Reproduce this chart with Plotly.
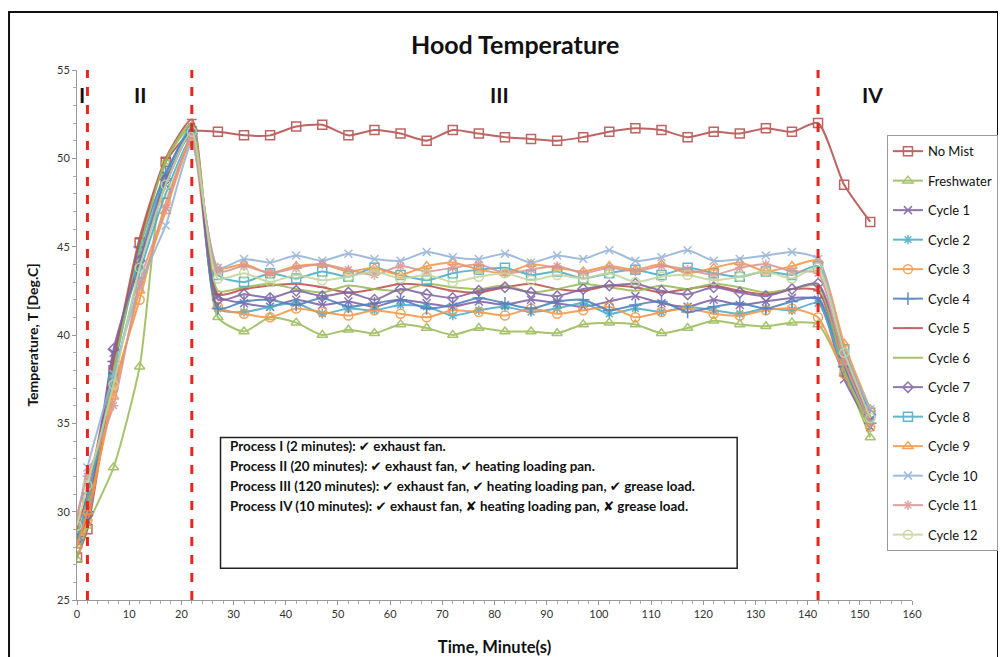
import plotly.graph_objects as go

# ---------------- data ----------------
time_min = [0, 2, 7, 12, 17, 22, 27, 32, 37, 42, 47, 52, 57, 62, 67, 72, 77, 82, 87, 92,
            97, 102, 107, 112, 117, 122, 127, 132, 137, 142, 147, 152]

no_mist = [27.4, 29.0, 38.0, 45.2, 49.8, 51.5, 51.5, 51.3, 51.3, 51.8, 51.9, 51.3, 51.6, 51.4,
           51.0, 51.6, 51.4, 51.2, 51.1, 51.0, 51.2, 51.5, 51.7, 51.6, 51.2, 51.5, 51.4, 51.7,
           51.5, 52.0, 48.5, 46.4]
freshwater = [27.3, 29.2, 32.5, 38.2, 49.8, 51.8, 41.0, 40.2, 41.0, 40.7, 40.0, 40.3, 40.1, 40.6,
              40.4, 40.0, 40.4, 40.2, 40.2, 40.1, 40.6, 40.7, 40.6, 40.1, 40.4, 40.8, 40.6, 40.5,
              40.7, 40.6, 37.8, 34.2]
cycle_1 = [28.5, 29.5, 39.0, 44.0, 48.5, 51.5, 42.2, 41.8, 41.6, 42.0, 41.7, 41.9, 41.6, 42.0,
           41.8, 41.6, 41.9, 41.7, 42.0, 41.8, 41.6, 41.9, 42.2, 41.8, 41.6, 42.0, 41.7, 41.9,
           42.1, 42.0, 37.5, 34.8]
cycle_2 = [28.3, 30.5, 38.0, 44.5, 49.0, 51.8, 41.5, 41.3, 41.6, 41.8, 41.2, 41.5, 41.4, 41.7,
           41.6, 41.1, 41.4, 41.6, 41.3, 41.5, 41.8, 41.2, 41.5, 41.3, 41.6, 41.4, 41.2, 41.5,
           41.4, 41.8, 38.0, 35.2]
cycle_3 = [28.0, 29.5, 37.0, 42.0, 47.5, 51.0, 41.6, 41.2, 41.0, 41.5, 41.3, 41.1, 41.4, 41.2,
           41.0, 41.4, 41.3, 41.1, 41.5, 41.2, 41.4, 41.6, 41.0, 41.3, 41.5, 41.2, 41.1, 41.4,
           41.5, 41.0, 37.8, 34.8]
cycle_4 = [28.6, 30.0, 38.5, 45.0, 49.2, 51.6, 41.5, 41.9, 42.0, 41.7, 42.1, 41.6, 41.8, 42.0,
           41.5, 41.7, 42.1, 41.8, 41.5, 41.9, 42.0, 41.4, 41.7, 41.9, 41.3, 41.6, 41.8, 41.5,
           41.9, 42.1, 38.2, 35.0]
cycle_5 = [29.0, 31.0, 38.5, 45.5, 50.0, 52.2, 42.3, 42.6, 42.8, 42.9, 42.7, 42.4, 42.6, 42.9,
           42.8, 42.5, 42.4, 42.7, 42.9, 42.6, 42.5, 42.8, 42.7, 42.4, 42.6, 42.8, 42.5, 42.3,
           42.6, 42.5, 38.5, 35.3]
cycle_6 = [28.8, 30.2, 38.0, 44.8, 49.9, 52.0, 42.5, 42.7, 42.9, 42.6, 42.4, 42.8, 42.6, 42.5,
           42.9, 42.7, 42.6, 42.8, 42.4, 42.6, 42.9, 42.7, 42.5, 42.8, 42.6, 42.9, 42.7, 42.4,
           42.6, 42.8, 38.0, 34.6]
cycle_7 = [28.4, 29.8, 39.2, 44.2, 48.8, 51.4, 42.0, 42.3, 42.1, 42.5, 42.2, 42.4, 42.0, 42.6,
           42.3, 42.1, 42.5, 42.7, 42.4, 42.2, 42.6, 42.8, 42.9, 42.5, 42.3, 42.7, 42.4, 42.2,
           42.6, 42.9, 38.8, 35.5]
cycle_8 = [28.2, 30.8, 37.5, 43.5, 48.0, 51.2, 43.4, 43.0, 43.5, 43.2, 43.6, 43.3, 43.8, 43.4,
           43.1, 43.5, 43.7, 43.8, 43.4, 43.6, 43.2, 43.5, 43.7, 43.4, 43.8, 43.5, 43.3, 43.6,
           43.4, 43.9, 39.2, 35.6]
cycle_9 = [28.1, 30.0, 36.5, 42.5, 47.0, 51.0, 43.8, 44.0, 43.5, 43.9, 44.0, 43.6, 43.8, 43.4,
           43.9, 44.1, 43.7, 43.5, 44.0, 43.8, 43.6, 43.9, 43.7, 44.0, 43.5, 43.8, 44.1, 43.6,
           43.9, 44.2, 39.5, 35.8]
cycle_10 = [29.5, 32.5, 37.8, 42.8, 46.2, 50.8, 43.8, 44.3, 44.1, 44.5, 44.2, 44.6, 44.3, 44.2,
            44.7, 44.4, 44.3, 44.6, 44.1, 44.5, 44.3, 44.8, 44.2, 44.4, 44.8, 44.2, 44.3, 44.5,
            44.7, 44.3, 39.0, 35.8]
cycle_11 = [29.8, 32.0, 36.0, 43.0, 47.2, 51.2, 43.6, 43.9, 43.5, 43.8, 44.0, 43.7, 43.4, 43.9,
            43.6, 43.8, 44.0, 43.5, 43.7, 43.9, 43.5, 43.8, 43.6, 43.9, 43.7, 43.4, 43.8, 44.0,
            43.6, 43.5, 38.5, 35.0]
cycle_12 = [29.2, 31.5, 37.2, 43.8, 48.5, 51.5, 43.2, 43.5, 43.0, 43.4, 43.1, 43.3, 43.6, 43.2,
            43.4, 43.0, 43.3, 43.5, 43.1, 43.4, 43.2, 43.5, 43.0, 43.3, 43.4, 43.1, 43.3, 43.6,
            43.2, 43.8, 39.0, 35.3]

series_names = ["No Mist", "Freshwater", "Cycle 1", "Cycle 2", "Cycle 3", "Cycle 4", "Cycle 5",
                "Cycle 6", "Cycle 7", "Cycle 8", "Cycle 9", "Cycle 10", "Cycle 11", "Cycle 12"]
series_values = [no_mist, freshwater, cycle_1, cycle_2, cycle_3, cycle_4, cycle_5, cycle_6,
                 cycle_7, cycle_8, cycle_9, cycle_10, cycle_11, cycle_12]

phase_bounds = [2, 22, 142]
phase_labels = ["I", "II", "III", "IV"]
phase_label_x = [1, 12, 81, 152.5]

process_notes = [
    "Process I (2 minutes): ✔ exhaust fan.",
    "Process II (20 minutes): ✔ exhaust fan, ✔ heating loading pan.",
    "Process III (120 minutes): ✔ exhaust fan, ✔ heating loading pan, ✔ grease load.",
    "Process IV (10 minutes): ✔ exhaust fan, ✘ heating loading pan, ✘ grease load.",
]

# ---------------- styles ----------------
colors = ["#B5504E", "#9BBB59", "#7E62A6", "#4BACC6", "#F79646", "#4F81BD", "#C0504D",
          "#9BBB59", "#8064A2", "#4BACC6", "#F79646", "#95B3D7", "#D99694", "#C3D69B"]
symbols = ["square-open", "triangle-up-open", "x-thin-open", "asterisk-open", "circle-open",
           "cross-thin-open", "line-ew-open", "circle", "diamond-open", "square-open",
           "triangle-up-open", "x-thin-open", "asterisk-open", "circle-open"]
msize = [9, 9, 8, 8, 9, 9, 7, 0, 8, 9, 9, 8, 8, 9]

FONT = "Lato, 'DejaVu Sans', sans-serif"

fig = go.Figure()
for name, vals, c, s, ms in zip(series_names, series_values, colors, symbols, msize):
    fig.add_trace(go.Scatter(
        x=time_min, y=vals, name=name, legendgroup=name,
        mode="lines+markers" if ms > 0 else "lines",
        line=dict(color=c, width=2, shape="spline", smoothing=0.6),
        marker=dict(symbol=s, size=ms, color=c, line=dict(color=c, width=1.5)),
        opacity=0.88,
    ))

shapes = []
for xb in phase_bounds:
    shapes.append(dict(type="line", xref="x", yref="y", x0=xb, x1=xb, y0=25, y1=55.6,
                       line=dict(color="#E8261E", width=3, dash="dash"), layer="above"))
# annotation box
shapes.append(dict(type="rect", xref="x", yref="y", x0=27.5, x1=126.5, y0=26.8, y1=34.2,
                   line=dict(color="#222222", width=1.5), fillcolor="white", layer="above"))
# outer frame
shapes.append(dict(type="rect", xref="paper", yref="paper", x0=-0.0814, x1=1.1030,
                   y0=-0.14, y1=1.1094, line=dict(color="#111111", width=2), layer="below"))

annotations = []
for lab, lx in zip(phase_labels, phase_label_x):
    annotations.append(dict(x=lx, y=53.6, xref="x", yref="y", text="<b>%s</b>" % lab,
                            showarrow=False, font=dict(family=FONT, size=21, color="#111111")))
note_y = [33.72, 32.59, 31.46, 30.32]
for txt, ny in zip(process_notes, note_y):
    annotations.append(dict(x=28.9, y=ny, xref="x", yref="y", text="<b>%s</b>" % txt,
                            xanchor="left", yanchor="middle", showarrow=False,
                            font=dict(family=FONT, size=13.4, color="#111111")))
annotations.append(dict(x=0.5246, y=1.049, xref="paper", yref="paper",
                        text="<b>Hood Temperature</b>", showarrow=False, yanchor="middle",
                        font=dict(family=FONT, size=25, color="#111111")))

fig.update_layout(
    width=998, height=649,
    margin=dict(l=69, r=94, t=62, b=57, autoexpand=False),
    paper_bgcolor="white", plot_bgcolor="white",
    font=dict(family=FONT, size=11, color="#333333"),
    shapes=shapes, annotations=annotations,
    showlegend=True,
    legend=dict(x=0.970, y=0.877, xanchor="left", yanchor="top",
                bordercolor="#9a9a9a", borderwidth=1, bgcolor="white",
                tracegroupgap=9.6, font=dict(family=FONT, size=13, color="#111111"),
                itemwidth=30),
    xaxis=dict(range=[0, 160], dtick=10, tick0=0, showgrid=False, zeroline=False,
               showline=True, linecolor="#999999", linewidth=1, automargin=False,
               ticks="outside", ticklen=4, tickcolor="#999999",
               minor=dict(dtick=2, ticks="outside", ticklen=3, tickcolor="#aaaaaa"),
               tickfont=dict(family=FONT, size=11, color="#333333"),
               title=dict(text="<b>Time, Minute(s)</b>", standoff=23,
                          font=dict(family=FONT, size=16.5, color="#111111"))),
    yaxis=dict(range=[25, 55], dtick=5, tick0=25, showgrid=False, zeroline=False,
               showline=True, linecolor="#999999", linewidth=1, automargin=False,
               ticks="outside", ticklen=4, tickcolor="#999999",
               minor=dict(dtick=1, ticks="outside", ticklen=3, tickcolor="#aaaaaa"),
               tickfont=dict(family=FONT, size=11, color="#333333"),
               title=dict(text="<b>Temperature, T [Deg.C]</b>", standoff=15,
                          font=dict(family=FONT, size=14, color="#111111"))),
)

fig.write_html("out.html")
